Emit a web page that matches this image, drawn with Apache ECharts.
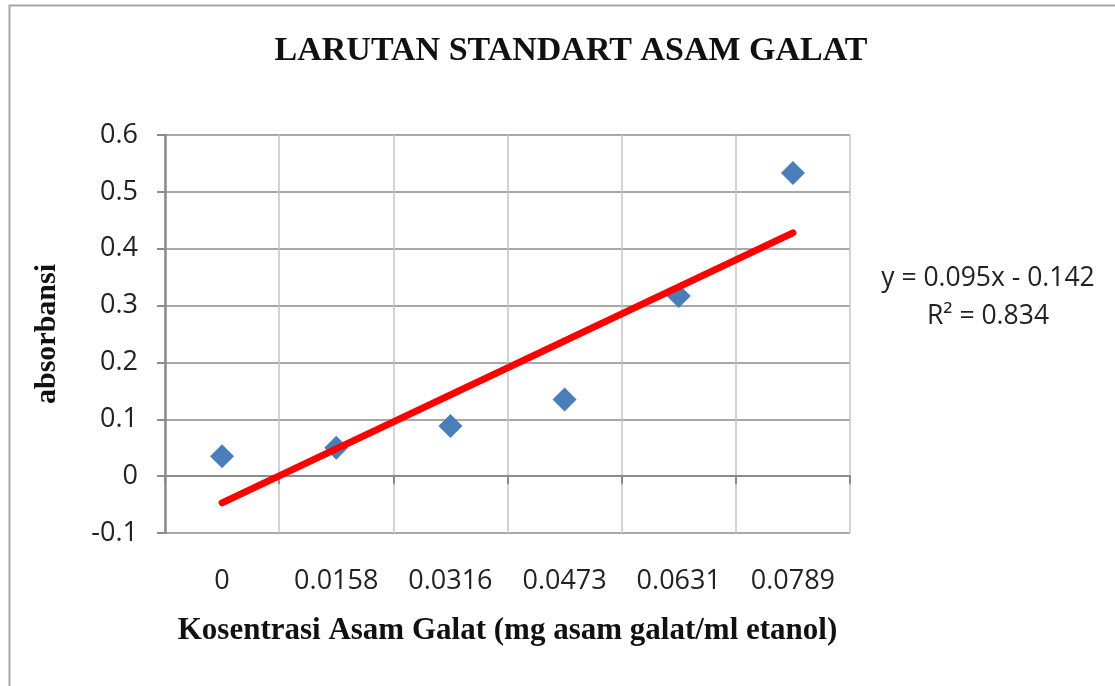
<!DOCTYPE html>
<html>
<head>
<meta charset="utf-8">
<script src="https://cdn.jsdelivr.net/npm/echarts@6/dist/echarts.min.js"></script>
<style>html,body{margin:0;padding:0;background:#fff;}#c{width:1115px;height:686px;}</style>
</head>
<body>
<div id="c"></div>
<script>
var categories = ['0', '0.0158', '0.0316', '0.0473', '0.0631', '0.0789'];
var absorbance = [0.035, 0.050, 0.088, 0.135, 0.317, 0.533];
var trendSlope = 0.095;
var trendIntercept = -0.142;
var equationText = 'y = 0.095x - 0.142';
var r2Text = 'R² = 0.834';

var trendData = [
  [0, trendSlope * 1 + trendIntercept],
  [categories.length - 1, trendSlope * categories.length + trendIntercept]
];

var chart = echarts.init(document.getElementById('c'));
chart.setOption({
  animation: false,
  backgroundColor: '#fff',
  title: {
    text: 'LARUTAN STANDART ASAM GALAT',
    left: 566, top: 29, textAlign: 'center',
    textStyle: { fontFamily: 'Liberation Serif', fontWeight: 'bold', fontSize: 34, color: '#111' }
  },
  graphic: [
    { type: 'rect', shape: { x: 9.5, y: 5.5, width: 1130, height: 700 }, style: { fill: 'none', stroke: '#a6a6a6', lineWidth: 2 }, silent: true },
    { type: 'text', x: 988, y: 278, style: { text: equationText, font: '26.5px "Open Sans"', fill: '#222', align: 'center', verticalAlign: 'middle' } },
    { type: 'text', x: 988, y: 316, style: { text: r2Text, font: '26.5px "Open Sans"', fill: '#222', align: 'center', verticalAlign: 'middle' } }
  ],
  grid: { left: 165, top: 135, right: 265, bottom: 153, show: false },
  xAxis: [
    {
      type: 'category', data: categories, boundaryGap: true,
      axisLine: { show: false, onZero: false },
      axisTick: { show: false },
      splitLine: { show: true, lineStyle: { color: '#c4c4c4', width: 1.5 } },
      axisLabel: { margin: 35, fontFamily: 'Open Sans', fontSize: 27, color: '#222', interval: 0 },
      name: 'Kosentrasi Asam Galat (mg asam galat/ml etanol)',
      nameLocation: 'middle', nameGap: 82,
      nameTextStyle: { fontFamily: 'Liberation Serif', fontWeight: 'bold', fontSize: 31, color: '#111' }
    },
    {
      type: 'category', data: categories, boundaryGap: true, position: 'bottom',
      axisLine: { show: true, onZero: true, lineStyle: { color: '#8c8c8c', width: 2 } },
      axisTick: { show: true, length: 8, lineStyle: { color: '#8c8c8c', width: 2 } },
      axisLabel: { show: false },
      splitLine: { show: false }
    }
  ],
  yAxis: {
    type: 'value', min: -0.1, max: 0.6, interval: 0.1,
    axisLine: { show: true, lineStyle: { color: '#8c8c8c', width: 2.5 } },
    axisTick: { show: true, length: 8, lineStyle: { color: '#8c8c8c', width: 2 } },
    splitLine: { show: true, lineStyle: { color: '#a8a8a8', width: 2 } },
    axisLabel: { margin: 27, fontFamily: 'Open Sans', fontSize: 27, color: '#222',
      formatter: function (v) { return String(Math.round(v * 10) / 10); } },
    name: 'absorbansi', nameLocation: 'middle', nameGap: 103, nameRotate: 90,
    nameTextStyle: { fontFamily: 'Liberation Serif', fontWeight: 'bold', fontSize: 30, color: '#111' }
  },
  series: [
    {
      type: 'scatter', xAxisIndex: 0, data: absorbance,
      symbol: 'diamond', symbolSize: [24, 24],
      itemStyle: { color: '#4a7ebb', opacity: 1 }, z: 3
    },
    {
      type: 'line', xAxisIndex: 0, data: trendData, showSymbol: false, symbol: 'none',
      lineStyle: { color: '#ff0000', width: 7, cap: 'round' }, z: 4
    }
  ]
});
</script>
</body>
</html>
